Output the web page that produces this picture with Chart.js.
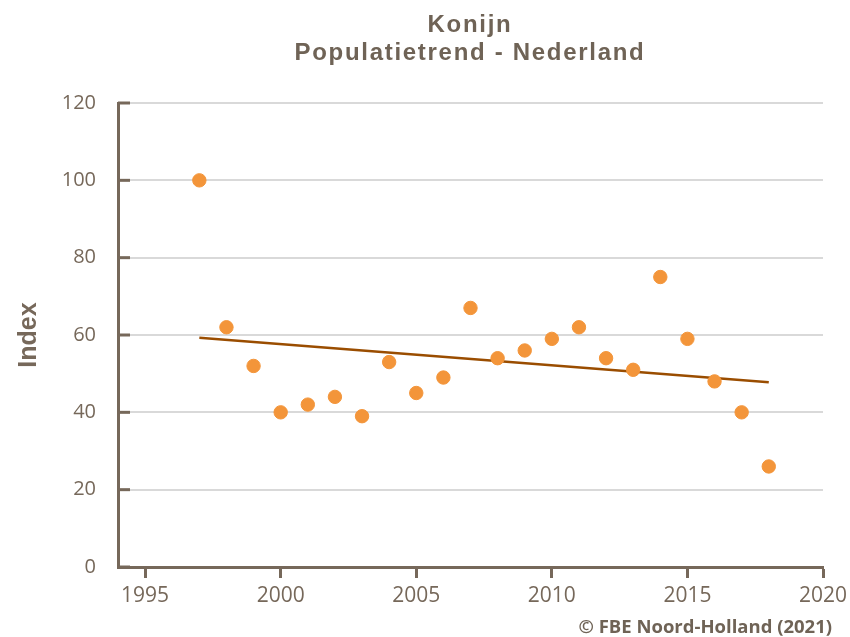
<!DOCTYPE html>
<html><head><meta charset="utf-8">
<script src="https://cdn.jsdelivr.net/npm/chart.js@4"></script>
<style>
html,body{margin:0;padding:0;background:#fff;}
#wrap{position:relative;width:850px;height:637px;}
canvas{position:absolute;left:0;top:0;}
.t{position:absolute;left:220px;width:500px;text-align:center;font-family:"Liberation Sans",Arial,sans-serif;font-weight:bold;font-size:24px;letter-spacing:1.7px;color:#6f6356;line-height:26px;white-space:nowrap;}
#foot{position:absolute;right:18px;top:617px;font-family:"Open Sans",sans-serif;font-weight:bold;font-size:18.5px;line-height:18px;color:#6f6356;white-space:nowrap;}
</style></head>
<body><div id="wrap">
<canvas id="c" width="850" height="637"></canvas>
<div class="t" style="top:11px">Konijn</div>
<div class="t" style="top:39px">Populatietrend - Nederland</div>
<div id="foot">© FBE Noord-Holland (2021)</div>
</div>
<script>
const years = [1997,1998,1999,2000,2001,2002,2003,2004,2005,2006,2007,2008,2009,2010,2011,2012,2013,2014,2015,2016,2017,2018];
const index = [100,62,52,40,42,44,39,53,45,49,67,54,56,59,62,54,51,75,59,48,40,26];
const trendYears = [1997,2018];
const trendValues = [59.3,47.8];
const xTicks = [1995,2000,2005,2010,2015,2020];
const yTicks = [0,20,40,60,80,100,120];

const brown = '#76685a';
const innerTicks = {
  id:'innerTicks',
  beforeDatasetsDraw(chart){
    const ctx = chart.ctx, y = chart.scales.y, x0 = chart.chartArea.left;
    ctx.save(); ctx.strokeStyle = brown; ctx.lineWidth = 3;
    yTicks.forEach(v => { const p = y.getPixelForValue(v); ctx.beginPath(); ctx.moveTo(x0, p); ctx.lineTo(x0+12, p); ctx.stroke(); });
    ctx.restore();
  }
};

new Chart(document.getElementById('c'), {
  type:'scatter',
  data:{datasets:[
    {label:'Trend', type:'line', data: trendYears.map((x,i)=>({x, y:trendValues[i]})), borderColor:'#9a4d00', borderWidth:2.5, pointRadius:0, fill:false, order:2},
    {label:'Index', data: years.map((x,i)=>({x, y:index[i]})), backgroundColor:'#f3953a', borderColor:'#f3953a', pointRadius:6.7, pointHoverRadius:6.7, order:1}
  ]},
  options:{
    responsive:false, animation:false, events:[],
    layout:{padding:{top:103,right:27,bottom:30,left:14}},
    plugins:{legend:{display:false}, title:{display:false}, tooltip:{enabled:false}},
    scales:{
      x:{type:'linear', min:1994, max:2020,
        afterBuildTicks(s){ s.ticks = xTicks.map(v=>({value:v})); },
        afterFit(s){ s.height = 40; s.paddingLeft = 0; s.paddingRight = 0; },
        grid:{drawOnChartArea:false, drawTicks:true, tickLength:11, tickColor:brown, tickWidth:3},
        border:{display:true, color:brown, width:3},
        ticks:{color:brown, font:{family:'"Open Sans", sans-serif', size:21}, padding:5, maxRotation:0, callback:v=>String(v)}
      },
      y:{type:'linear', min:0, max:120,
        afterBuildTicks(s){ s.ticks = yTicks.map(v=>({value:v})); },
        afterFit(s){ s.width = 104; s.paddingTop = 0; s.paddingBottom = 0; },
        grid:{color:'#d9d9d9', lineWidth:2, drawTicks:false},
        border:{display:true, color:brown, width:3},
        ticks:{color:brown, font:{family:'"Open Sans", sans-serif', size:20}, padding:22, callback:v=>String(v)},
        title:{display:true, text:'Index', color:brown, font:{family:'"Liberation Sans", Arial, sans-serif', size:25, weight:'bold'}, padding:{top:0,bottom:0}}
      }
    }
  },
  plugins:[innerTicks]
});
</script>
</body></html>
